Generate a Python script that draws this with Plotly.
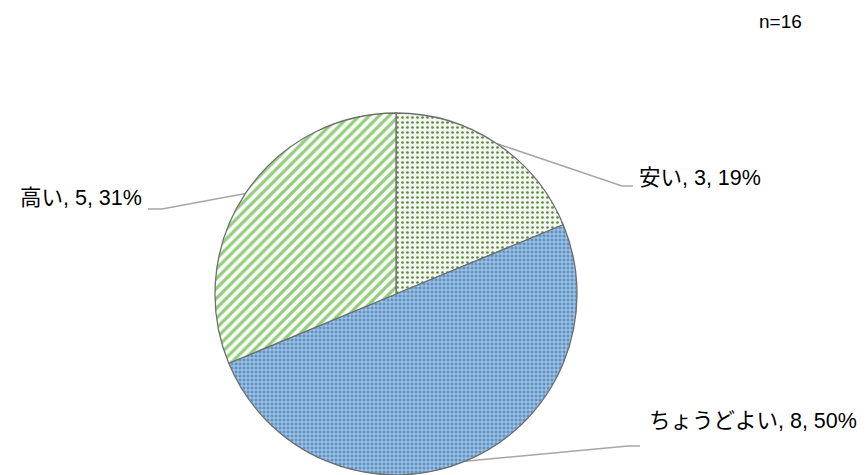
import math
import plotly.graph_objects as go

labels = ["安い", "ちょうどよい", "高い"]
values = [3, 8, 5]
n_total = 16

bg_colors = ["#f3f8ee", "#6293c6", "#fbfdf8"]
fg_colors = ["#5f8548", "#d8eefb", "#92cc7c"]
shapes = [".", "+", "/"]

W, H = 867, 475
cx, cy, R = 396, 294, 181

fig = go.Figure()
fig.add_trace(go.Pie(
    labels=labels, values=values, sort=False, direction="clockwise", rotation=0,
    textinfo="none", hoverinfo="label+value+percent", showlegend=False,
    domain=dict(x=[(cx - R) / W, (cx + R) / W], y=[0, (2 * R) / H]),
    marker=dict(
        colors=bg_colors,
        line=dict(color="#6e6e6e", width=1.3),
        pattern=dict(shape=shapes, fgcolor=fg_colors, bgcolor=bg_colors,
                     size=[5, 4, 7], solidity=[0.22, 0.28, 0.45], fillmode="replace"),
    ),
))

# leader line elbows / label anchors (layout)
elbows = [((622, 186), (633, 186), "left", (637, 178)),
          ((628, 446), (640, 446), "left", (647, 421)),
          ((162, 209), (148, 209), "right", (144, 198))]

total = sum(values)
cum = 0
annotations = []
for i, (lab, v) in enumerate(zip(labels, values)):
    mid = (cum + v / 2) / total * 2 * math.pi
    cum += v
    px = cx + R * math.sin(mid)
    py = cy - R * math.cos(mid)
    (e1x, e1y), (e2x, e2y), anchor, (tx, ty) = elbows[i]
    fig.add_trace(go.Scatter(x=[px, e1x, e2x], y=[py, e1y, e2y], mode="lines",
                             line=dict(color="#a6a6a6", width=1.5),
                             hoverinfo="skip", showlegend=False,
                             xaxis="x", yaxis="y"))
    pct = round(v / n_total * 100)
    annotations.append(dict(x=tx, y=ty, xref="x", yref="y", text=f"{lab}, {v}, {pct}%",
                            showarrow=False, xanchor=anchor, yanchor="middle",
                            font=dict(size=21.5, color="#000000")))

annotations.append(dict(x=804, y=21, xref="x", yref="y", text=f"n={n_total}",
                        showarrow=False, xanchor="right", yanchor="middle",
                        font=dict(size=19, color="#000000")))

fig.update_layout(
    width=W, height=H, margin=dict(l=0, r=0, t=0, b=0),
    paper_bgcolor="#ffffff", plot_bgcolor="rgba(0,0,0,0)",
    font=dict(family="Liberation Sans, Arial, Noto Sans CJK JP, sans-serif"),
    xaxis=dict(range=[0, W], visible=False, fixedrange=True, domain=[0, 1]),
    yaxis=dict(range=[H, 0], visible=False, fixedrange=True, domain=[0, 1]),
    annotations=annotations,
)

fig.write_html("out.html")
